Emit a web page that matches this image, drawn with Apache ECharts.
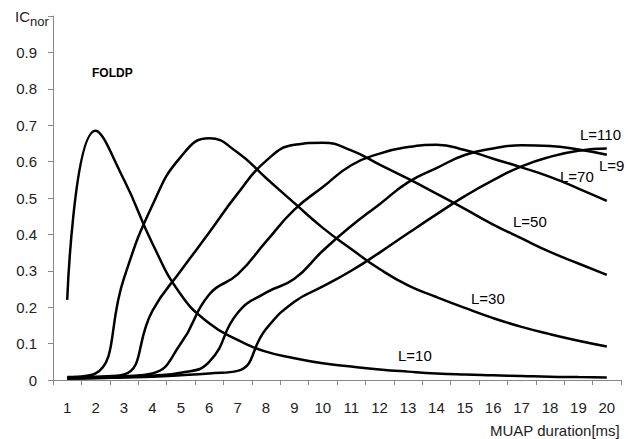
<!DOCTYPE html>
<html><head><meta charset="utf-8">
<script src="https://cdn.jsdelivr.net/npm/echarts@6/dist/echarts.min.js"></script>
<style>html,body{margin:0;padding:0;background:#fff}#c{width:635px;height:439px}</style>
</head><body><div id="c"></div>
<script>
const categories = ['1','2','3','4','5','6','7','8','9','10','11','12','13','14','15','16','17','18','19','20'];
const yTicks = [0,0.1,0.2,0.3,0.4,0.5,0.6,0.7,0.8,0.9];
const L10  = [0.22,0.685,0.55,0.375,0.235,0.156,0.11,0.078,0.06,0.046,0.037,0.029,0.023,0.018,0.015,0.013,0.011,0.009,0.008,0.007];
const L30  = [0.008,0.018,0.28,0.48,0.613,0.664,0.625,0.555,0.486,0.418,0.36,0.305,0.26,0.228,0.198,0.17,0.146,0.126,0.108,0.092];
const L50  = [0.006,0.009,0.015,0.19,0.3,0.405,0.512,0.602,0.646,0.652,0.631,0.592,0.553,0.512,0.47,0.427,0.389,0.352,0.32,0.289];
const L70  = [0.005,0.007,0.01,0.018,0.10,0.235,0.29,0.38,0.468,0.53,0.59,0.622,0.64,0.646,0.632,0.608,0.584,0.558,0.526,0.492];
const L90  = [0.004,0.006,0.008,0.012,0.02,0.05,0.184,0.24,0.278,0.355,0.423,0.483,0.543,0.582,0.618,0.636,0.645,0.643,0.633,0.619];
const L110 = [0.004,0.005,0.007,0.009,0.013,0.018,0.025,0.14,0.215,0.257,0.30,0.35,0.403,0.455,0.505,0.549,0.587,0.613,0.63,0.636];
const seriesNames = ['L=10','L=30','L=50','L=70','L=90','L=110'];
const seriesData = [L10, L30, L50, L70, L90, L110];
const curveLabels = ['L=10','L=30','L=50','L=70','L=9','L=110'];

const FONT = 'Liberation Sans';
const chart = echarts.init(document.getElementById('c'), null, {renderer:'svg'});
const lineStyle = {color:'#000', width:2.5};
chart.setOption({
  animation:false,
  backgroundColor:'#fff',
  grid:{left:53, right:14, top:16, bottom:59},
  xAxis:{
    type:'category', data:categories, boundaryGap:true,
    axisLine:{lineStyle:{color:'#888', width:1}},
    axisTick:{show:true, alignWithLabel:false, length:5, lineStyle:{color:'#888'}},
    axisLabel:{interval:0, margin:20, color:'#222', fontFamily:FONT, fontSize:15},
    splitLine:{show:false}
  },
  yAxis:{
    type:'value', min:0, max:1, interval:0.1,
    axisLine:{show:true, lineStyle:{color:'#888', width:1}},
    axisTick:{show:true, length:5, lineStyle:{color:'#888'}},
    axisLabel:{margin:16, color:'#222', fontFamily:FONT, fontSize:15,
      formatter:function(v){ return yTicks.some(t=>Math.abs(t-v)<1e-9) ? String(Math.round(v*10)/10) : ''; }},
    splitLine:{show:false}
  },
  series: seriesData.map((d,i)=>({
    name:seriesNames[i], type:'line', data:d, smooth:0.5, symbol:'none',
    lineStyle:lineStyle, clip:true
  })),
  graphic:[
    {type:'text', left:15, top:9, style:{text:'{a|IC}{b|nor}', rich:{
      a:{fontFamily:FONT, fontSize:15, fill:'#222'},
      b:{fontFamily:FONT, fontSize:13, fill:'#222', padding:[10,0,0,0]}}}},
    {type:'text', left:92, top:67, style:{text:'FOLDP', fontFamily:FONT, fontSize:12, fontWeight:'bold', fill:'#000'}},
    {type:'text', right:15, top:423, style:{text:'MUAP duration[ms]', fontFamily:FONT, fontSize:15, fill:'#222'}},
    {type:'text', left:398, top:348, style:{text:curveLabels[0], fontFamily:FONT, fontSize:15, fill:'#000'}},
    {type:'text', left:471, top:291, style:{text:curveLabels[1], fontFamily:FONT, fontSize:15, fill:'#000'}},
    {type:'text', left:513, top:214, style:{text:curveLabels[2], fontFamily:FONT, fontSize:15, fill:'#000'}},
    {type:'text', left:560, top:169, style:{text:curveLabels[3], fontFamily:FONT, fontSize:15, fill:'#000'}},
    {type:'text', left:599, top:158, style:{text:curveLabels[4], fontFamily:FONT, fontSize:15, fill:'#000'}},
    {type:'text', left:580, top:127, style:{text:curveLabels[5], fontFamily:FONT, fontSize:15, fill:'#000'}}
  ]
});
</script></body></html>
